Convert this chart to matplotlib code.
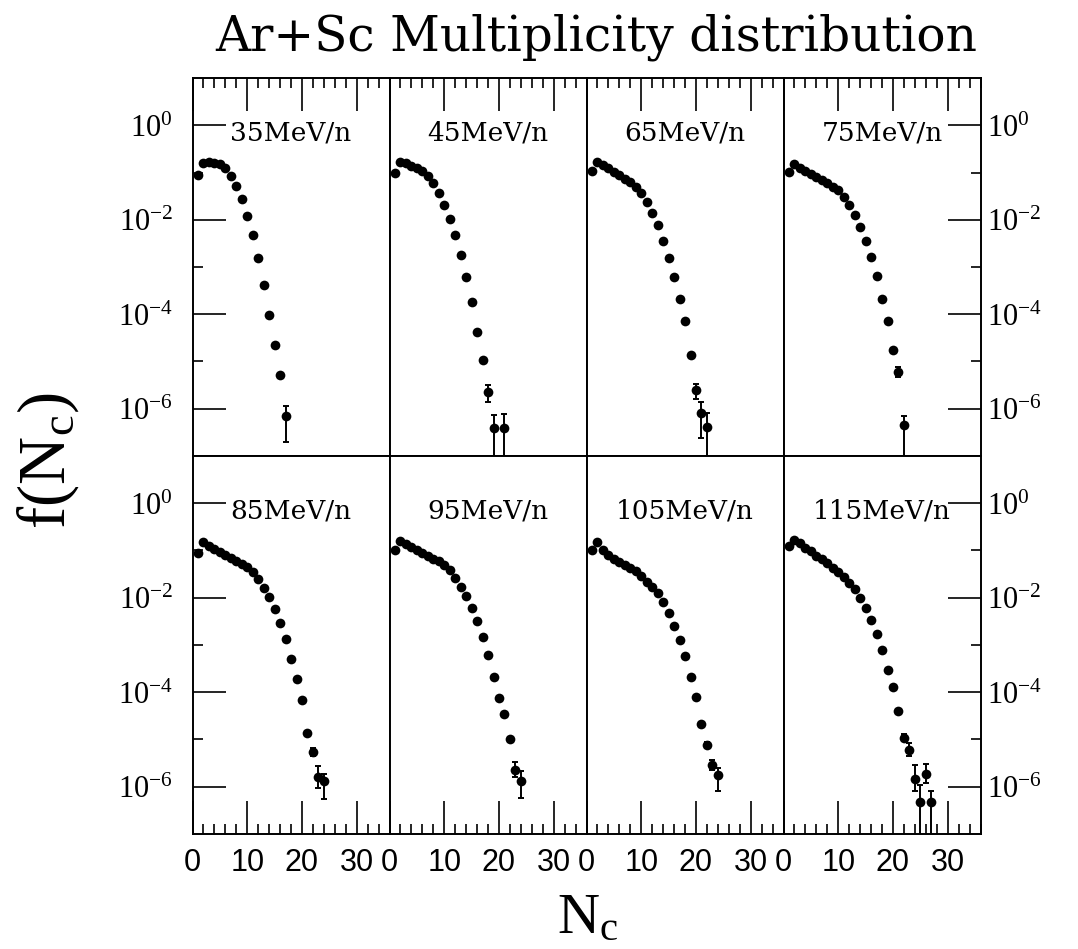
import numpy as np
import matplotlib
matplotlib.use('Agg')
from matplotlib import pyplot as plt
from matplotlib.ticker import FixedLocator, FixedFormatter, MultipleLocator
import matplotlib.transforms as mtransforms

plt.rcParams['mathtext.fontset'] = 'custom'
plt.rcParams['mathtext.rm'] = 'Liberation Serif'
plt.rcParams['mathtext.it'] = 'Liberation Serif:italic'

energies = ['35', '45', '65', '75', '85', '95', '105', '115']

# multiplicity N_c and log10 f(N_c)
n_35 = [1, 2, 3, 4, 5, 6, 7, 8, 9, 10, 11, 12, 13, 14, 15, 16, 17]
logf_35 = [-1.05, -0.79, -0.78, -0.80, -0.83, -0.91, -1.07, -1.29, -1.57, -1.91,
           -2.33, -2.82, -3.38, -4.01, -4.66, -5.29, -6.16]
errn_35, errup_35, errdn_35 = [17], [0.21], [0.55]

n_45 = [1, 2, 3, 4, 5, 6, 7, 8, 9, 10, 11, 12, 13, 14, 15, 16, 17, 18, 19, 21]
logf_45 = [-1.01, -0.77, -0.80, -0.86, -0.90, -0.97, -1.07, -1.23, -1.44, -1.68,
           -1.98, -2.33, -2.75, -3.22, -3.75, -4.38, -4.97, -5.65, -6.41, -6.40]
errn_45, errup_45, errdn_45 = [18, 19, 21], [0.16, 0.28, 0.28], [0.21, 3, 3]

n_65 = [1, 2, 3, 4, 5, 6, 7, 8, 9, 10, 11, 12, 13, 14, 15, 16, 17, 18, 19, 20, 21, 22]
logf_65 = [-0.97, -0.78, -0.85, -0.91, -0.98, -1.05, -1.13, -1.21, -1.30, -1.44,
           -1.62, -1.86, -2.12, -2.44, -2.80, -3.22, -3.68, -4.15, -4.86, -5.61,
           -6.09, -6.38]
errn_65, errup_65, errdn_65 = [20, 21, 22], [0.14, 0.23, 0.28], [0.18, 0.53, 3]

n_75 = [1, 2, 3, 4, 5, 6, 7, 8, 9, 10, 11, 12, 13, 14, 15, 16, 17, 18, 19, 20, 21, 22]
logf_75 = [-0.99, -0.83, -0.90, -0.96, -1.03, -1.09, -1.16, -1.23, -1.30, -1.38,
           -1.52, -1.69, -1.90, -2.16, -2.44, -2.78, -3.19, -3.67, -4.14, -4.75,
           -5.22, -6.35]
errn_75, errup_75, errdn_75 = [21, 22], [0.10, 0.20], [0.10, 3]

n_85 = [1, 2, 3, 4, 5, 6, 7, 8, 9, 10, 11, 12, 13, 14, 15, 16, 17, 18, 19, 20,
        21, 22, 23, 24]
logf_85 = [-1.05, -0.82, -0.90, -0.96, -1.03, -1.10, -1.16, -1.22, -1.28, -1.35,
           -1.46, -1.60, -1.79, -1.99, -2.24, -2.54, -2.88, -3.30, -3.72, -4.16,
           -4.87, -5.27, -5.80, -5.88]
errn_85, errup_85, errdn_85 = [22, 23, 24], [0.08, 0.23, 0.15], [0.08, 0.23, 0.38]

n_95 = [1, 2, 3, 4, 5, 6, 7, 8, 9, 10, 11, 12, 13, 14, 15, 16, 17, 18, 19, 20,
        21, 22, 23, 24]
logf_95 = [-0.99, -0.79, -0.86, -0.92, -0.98, -1.05, -1.11, -1.17, -1.23, -1.31,
           -1.41, -1.59, -1.77, -1.97, -2.21, -2.50, -2.84, -3.21, -3.67, -4.12,
           -4.47, -5.00, -5.64, -5.87]
errn_95, errup_95, errdn_95 = [22, 23, 24], [0.06, 0.16, 0.20], [0.06, 0.16, 0.37]

n_105 = [1, 2, 3, 4, 5, 6, 7, 8, 9, 10, 11, 12, 13, 14, 15, 16, 17, 18, 19, 20,
         21, 22, 23, 24]
logf_105 = [-1.00, -0.82, -0.99, -1.09, -1.18, -1.25, -1.31, -1.37, -1.44, -1.53,
            -1.67, -1.77, -1.90, -2.09, -2.32, -2.59, -2.89, -3.24, -3.68, -4.11,
            -4.68, -5.12, -5.54, -5.75]
errn_105, errup_105, errdn_105 = [22, 23, 24], [0.06, 0.11, 0.15], [0.06, 0.11, 0.35]

n_115 = [1, 2, 3, 4, 5, 6, 7, 8, 9, 10, 11, 12, 13, 14, 15, 16, 17, 18, 19, 20,
         21, 22, 23, 24, 25, 26, 27]
logf_115 = [-0.90, -0.77, -0.85, -0.94, -1.02, -1.11, -1.19, -1.27, -1.36, -1.46,
            -1.57, -1.68, -1.82, -2.00, -2.21, -2.47, -2.77, -3.10, -3.52, -3.89,
            -4.39, -4.96, -5.22, -5.83, -6.32, -5.72, -6.32]
errn_115 = [22, 23, 24, 25, 26, 27]
errup_115 = [0.07, 0.14, 0.30, 0.35, 0.20, 0.22]
errdn_115 = [0.07, 0.14, 0.27, 3, 0.20, 3]

panels = [
    (n_35, logf_35, errn_35, errup_35, errdn_35),
    (n_45, logf_45, errn_45, errup_45, errdn_45),
    (n_65, logf_65, errn_65, errup_65, errdn_65),
    (n_75, logf_75, errn_75, errup_75, errdn_75),
    (n_85, logf_85, errn_85, errup_85, errdn_85),
    (n_95, logf_95, errn_95, errup_95, errdn_95),
    (n_105, logf_105, errn_105, errup_105, errdn_105),
    (n_115, logf_115, errn_115, errup_115, errdn_115),
]

xticks = [0, 10, 20, 30]
xticklabels = ['0', '10', '20', '30']
yticks = [1e-6, 1e-4, 1e-2, 1e0]
yticklabels = [r'$10^{-6}$', r'$10^{-4}$', r'$10^{-2}$', r'$10^{0}$']
yminor = [1e-5, 1e-3, 1e-1]

fig = plt.figure(figsize=(10.78, 9.49), dpi=100)
left, right, top, bottom = 0.1786, 0.9096, 0.9178, 0.1212
w = (right - left) / 4
h = (top - bottom) / 2

for i, (n, logf, errn, errup, errdn) in enumerate(panels):
    r, c = divmod(i, 4)
    ax = fig.add_axes([left + c * w, top - (r + 1) * h, w, h])
    ax.set_yscale('log')
    ax.set_xlim(0, 36)
    ax.set_ylim(1e-7, 1e1)

    f = 10 ** np.array(logf)
    ax.plot(n, f, 'o', color='black', ms=7, mew=0)

    ef = 10 ** np.array([logf[n.index(k)] for k in errn])
    hi = ef * (10 ** np.array(errup) - 1)
    lo = ef * (1 - 10 ** (-np.array(errdn)))
    ax.errorbar(errn, ef, yerr=[lo, hi], fmt='none', ecolor='black',
                elinewidth=1.4, capsize=2.5, capthick=1.4)

    trans = mtransforms.blended_transform_factory(ax.transAxes, ax.transData)
    ax.text(0.5, 10 ** -0.33, energies[i] + 'MeV/n', transform=trans,
            ha='center', va='baseline', family='DejaVu Serif', fontsize=19)

    ax.xaxis.set_major_locator(FixedLocator(xticks))
    ax.xaxis.set_major_formatter(FixedFormatter(xticklabels))
    ax.xaxis.set_minor_locator(MultipleLocator(2))
    ax.yaxis.set_major_locator(FixedLocator(yticks))
    ax.yaxis.set_major_formatter(FixedFormatter(yticklabels))
    ax.yaxis.set_minor_locator(FixedLocator(yminor))
    ax.yaxis.set_minor_formatter(FixedFormatter(['', '', '']))

    ax.tick_params(axis='x', which='both', direction='in', top=(r == 0),
                   bottom=(r == 1), labelbottom=(r == 1), labeltop=False,
                   labelsize=22, labelfontfamily='Liberation Sans', pad=10,
                   width=1.2)
    ax.tick_params(axis='y', which='both', direction='in', left=(c == 0),
                   right=(c == 3), labelleft=(c == 0), labelright=(c == 3),
                   labelsize=22, width=1.2)
    ax.tick_params(axis='y', which='major', pad=14 if c == 0 else 5)
    ax.tick_params(which='major', length=24)
    ax.tick_params(which='minor', length=7)
    for s in ax.spines.values():
        s.set_linewidth(1.4)

fig.text(0.553, 0.947, 'Ar+Sc Multiplicity distribution', ha='center',
         va='baseline', family='DejaVu Serif', fontsize=35)
fig.text(0.045, 0.515, r'f(N$_{\rm c}$)', rotation=90, ha='center', va='center',
         family='Liberation Serif', fontsize=48)
fig.text(0.545, 0.017, r'N$_{\rm c}$', ha='center', va='baseline',
         family='Liberation Serif', fontsize=42)

fig.savefig('out.png', dpi=100)
